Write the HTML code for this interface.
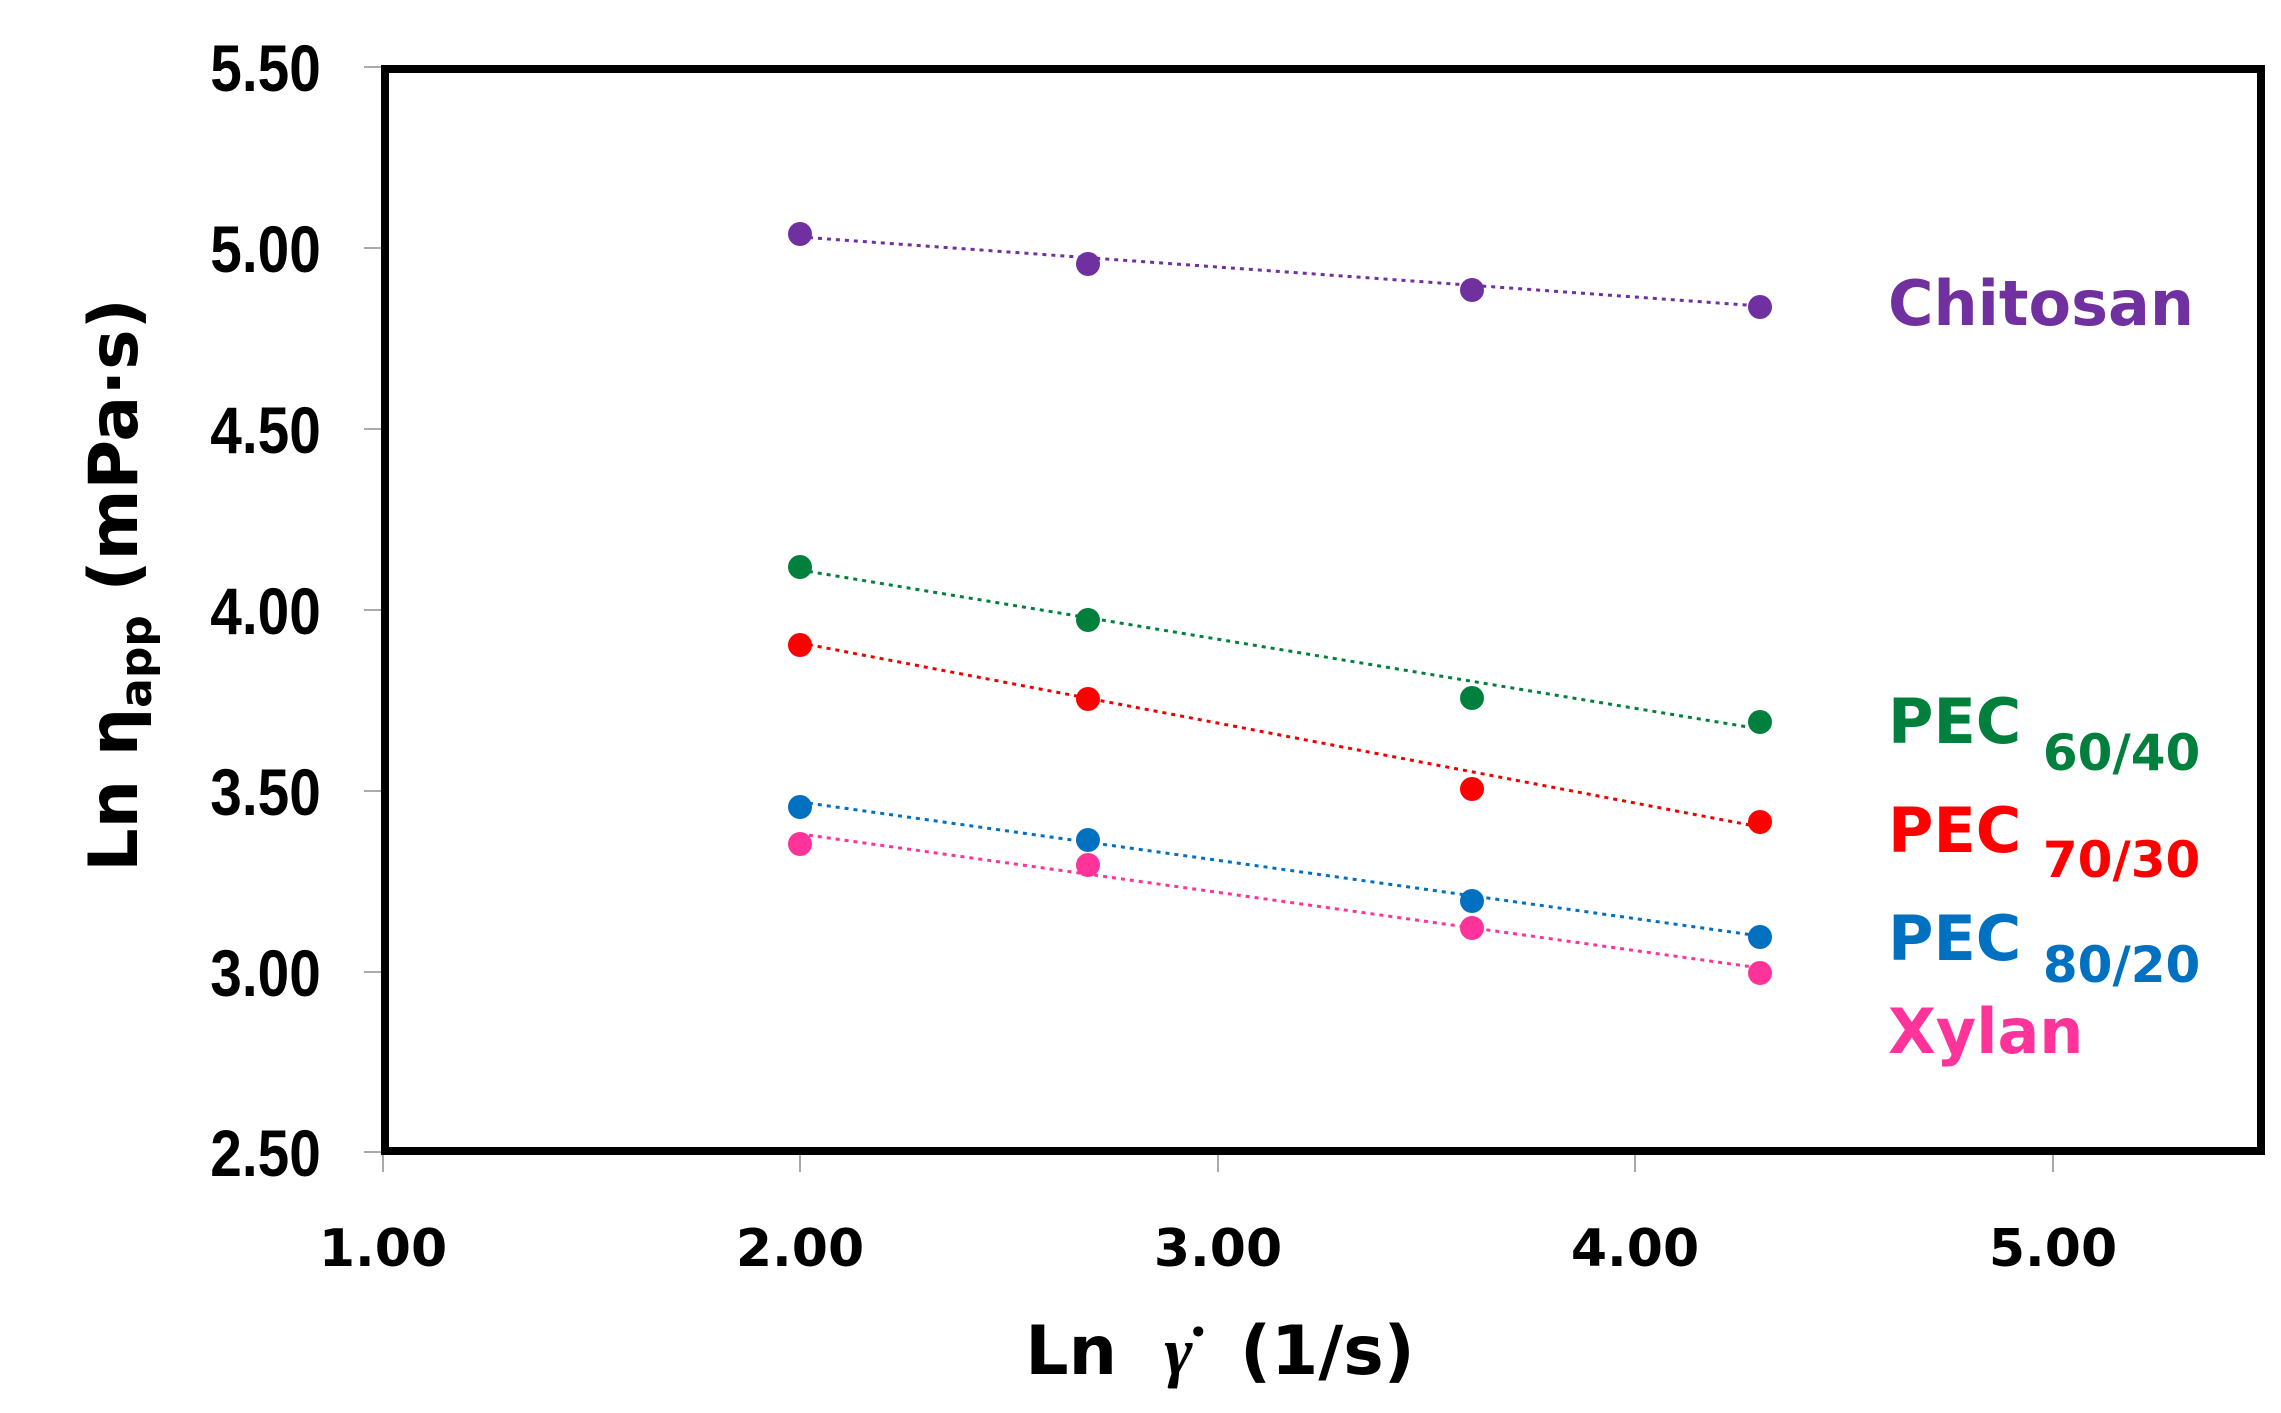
<!DOCTYPE html>
<html><head><meta charset="utf-8"><style>
html,body{margin:0;padding:0;background:#fff;}
svg{display:block;}
</style></head><body>
<svg width="2281" height="1413" viewBox="0 0 2281 1413" xmlns="http://www.w3.org/2000/svg">
<rect width="2281" height="1413" fill="#fff"/>
<g stroke="#aaa" stroke-width="2">
<line x1="364" y1="67" x2="383" y2="67"/>
<line x1="364" y1="248" x2="383" y2="248"/>
<line x1="364" y1="429" x2="383" y2="429"/>
<line x1="364" y1="610" x2="383" y2="610"/>
<line x1="364" y1="791" x2="383" y2="791"/>
<line x1="364" y1="972" x2="383" y2="972"/>
<line x1="364" y1="1152" x2="383" y2="1152"/>
<line x1="383" y1="1152" x2="383" y2="1172"/>
<line x1="800" y1="1152" x2="800" y2="1172"/>
<line x1="1218" y1="1152" x2="1218" y2="1172"/>
<line x1="1635" y1="1152" x2="1635" y2="1172"/>
<line x1="2053" y1="1152" x2="2053" y2="1172"/>
</g>
<rect x="385" y="69" width="1876" height="1082" fill="none" stroke="#000" stroke-width="8"/>
<g font-family="Liberation Sans, sans-serif" font-weight="bold" font-size="66" text-anchor="end" fill="#000" transform="scale(0.86,1)">
<text x="373" y="91">5.50</text>
<text x="373" y="272">5.00</text>
<text x="373" y="453">4.50</text>
<text x="373" y="634">4.00</text>
<text x="373" y="815">3.50</text>
<text x="373" y="996">3.00</text>
<text x="373" y="1176">2.50</text>
</g>
<g font-family="DejaVu Sans, sans-serif" font-weight="bold" font-size="52" text-anchor="middle" fill="#000">
<text x="383" y="1266">1.00</text>
<text x="800" y="1266">2.00</text>
<text x="1218" y="1266">3.00</text>
<text x="1635" y="1266">4.00</text>
<text x="2053" y="1266">5.00</text>
</g>
<text x="1220" y="1374" font-family="DejaVu Sans, sans-serif" font-weight="bold" font-size="68" text-anchor="middle" xml:space="preserve">Ln  <tspan font-family="Liberation Serif, serif" font-style="italic">γ̇</tspan>  (1/s)</text>
<text transform="translate(137,585) rotate(-90)" font-family="DejaVu Sans, sans-serif" font-weight="bold" font-size="68" text-anchor="middle">Ln η<tspan font-size="44" dy="14">app</tspan><tspan dy="-14"> (mPa·s)</tspan></text>
<g stroke-width="3" stroke-dasharray="4,5" fill="none">
<line x1="800" y1="237" x2="1760" y2="306" stroke="#7030a0"/>
<line x1="800" y1="570" x2="1760" y2="729" stroke="#00803c"/>
<line x1="800" y1="643" x2="1760" y2="827" stroke="#e00"/>
<line x1="800" y1="802" x2="1760" y2="936" stroke="#0070c0"/>
<line x1="800" y1="834" x2="1760" y2="968" stroke="#ff3399"/>
</g>
<g fill="#7030a0"><circle cx="800" cy="234" r="12"/><circle cx="1088" cy="264" r="12"/><circle cx="1472" cy="290" r="12"/><circle cx="1760" cy="307" r="12"/></g>
<g fill="#00803c"><circle cx="800" cy="567" r="12"/><circle cx="1088" cy="620" r="12"/><circle cx="1472" cy="698" r="12"/><circle cx="1760" cy="722" r="12"/></g>
<g fill="#f00"><circle cx="800" cy="645" r="12"/><circle cx="1088" cy="699" r="12"/><circle cx="1472" cy="789" r="12"/><circle cx="1760" cy="822" r="12"/></g>
<g fill="#0070c0"><circle cx="800" cy="807" r="12"/><circle cx="1088" cy="840" r="12"/><circle cx="1472" cy="901" r="12"/><circle cx="1760" cy="937" r="12"/></g>
<g fill="#ff3399"><circle cx="800" cy="844" r="12"/><circle cx="1088" cy="865" r="12"/><circle cx="1472" cy="928" r="12"/><circle cx="1760" cy="973" r="12"/></g>
<g font-family="DejaVu Sans, sans-serif" font-weight="bold" font-size="62">
<text x="1888" y="325" fill="#7030a0">Chitosan</text>
<text x="1888" y="743" fill="#00803c">PEC <tspan font-size="50" dy="27">60/40</tspan></text>
<text x="1888" y="852" fill="#f00">PEC <tspan font-size="50" dy="25">70/30</tspan></text>
<text x="1888" y="960" fill="#0070c0">PEC <tspan font-size="50" dy="22">80/20</tspan></text>
<text x="1888" y="1053" fill="#ff3399">Xylan</text>
</g>
</svg>
</body></html>
